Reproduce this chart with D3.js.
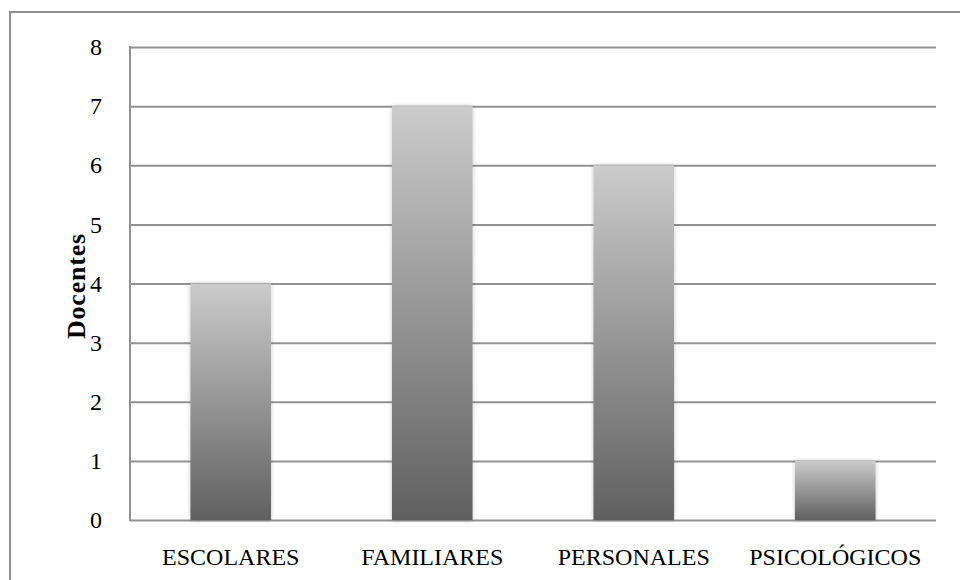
<!DOCTYPE html>
<html><head><meta charset="utf-8">
<script src="https://cdn.jsdelivr.net/npm/d3@7"></script>
<style>body{margin:0;background:#fff}svg{display:block}</style>
</head><body>
<svg id="c" width="960" height="580"></svg>
<script>
const categories = ["ESCOLARES", "FAMILIARES", "PERSONALES", "PSICOLÓGICOS"];
const values = [4, 7, 6, 1];
const yTicks = [0, 1, 2, 3, 4, 5, 6, 7, 8];
const yTitle = "Docentes";

const svg = d3.select("#c");
const m = {l: 130, r: 936, t: 47, b: 520};
const font = "'Liberation Serif', serif";

svg.append("rect").attr("x", 10).attr("y", 12).attr("width", 970).attr("height", 600)
  .attr("fill", "#fff").attr("stroke", "#8f8f8f").attr("stroke-width", 2);

const defs = svg.append("defs");
const g = defs.append("linearGradient").attr("id", "bg").attr("x1", 0).attr("y1", 0).attr("x2", 0).attr("y2", 1);
g.append("stop").attr("offset", "0%").attr("stop-color", "#cbcbcb");
g.append("stop").attr("offset", "100%").attr("stop-color", "#606060");
const f = defs.append("filter").attr("id", "sh").attr("x", "-20%").attr("y", "-5%").attr("width", "140%").attr("height", "110%");
f.append("feGaussianBlur").attr("in", "SourceAlpha").attr("stdDeviation", 2).attr("result", "b");
f.append("feComponentTransfer").attr("in", "b").attr("result", "b2").append("feFuncA").attr("type", "linear").attr("slope", 0.25);
const mg = f.append("feMerge"); mg.append("feMergeNode").attr("in", "b2"); mg.append("feMergeNode").attr("in", "SourceGraphic");

const x = d3.scaleBand().domain(categories).range([m.l, m.r]).paddingInner(0.6).paddingOuter(0.3);
const y = d3.scaleLinear().domain([0, 8]).range([m.b, m.t]);

const yAxis = svg.append("g").attr("transform", `translate(${m.l},0)`)
  .call(d3.axisLeft(y).tickValues(yTicks).tickSize(-(m.r - m.l)).tickPadding(28).tickFormat(d3.format("d")));
yAxis.select(".domain").remove();
yAxis.selectAll(".tick line").attr("stroke", "#929292").attr("stroke-width", 2);
yAxis.selectAll(".tick text").attr("font-family", font).attr("font-size", 24).attr("fill", "#000");

svg.append("g").selectAll("rect").data(values).join("rect")
  .attr("x", (d, i) => x(categories[i])).attr("width", x.bandwidth())
  .attr("y", d => y(d)).attr("height", d => y(0) - y(d))
  .attr("fill", "url(#bg)").attr("filter", "url(#sh)");

svg.append("line").attr("x1", m.l).attr("x2", m.l).attr("y1", m.t - 1).attr("y2", m.b + 1)
  .attr("stroke", "#929292").attr("stroke-width", 2);

const xAxis = svg.append("g").attr("transform", `translate(0,${m.b})`)
  .call(d3.axisBottom(x).tickSize(0).tickPadding(28));
xAxis.select(".domain").remove();
xAxis.selectAll(".tick text").attr("font-family", font).attr("font-size", 24).attr("fill", "#000");

svg.append("text").attr("transform", `translate(85,286) rotate(-90)`)
  .attr("text-anchor", "middle").attr("font-family", font).attr("font-weight", "bold")
  .attr("font-size", 26).attr("letter-spacing", 0.8).text(yTitle);
</script>
</body></html>
